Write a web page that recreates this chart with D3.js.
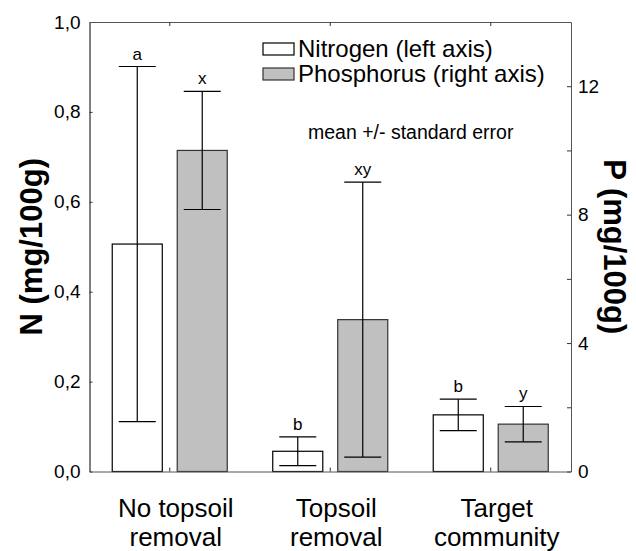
<!DOCTYPE html>
<html>
<head>
<meta charset="utf-8">
<script src="https://cdn.jsdelivr.net/npm/d3@7"></script>
<style>
  body { margin: 0; background: #fff; }
  svg text { font-family: "Liberation Sans", Arial, sans-serif; fill: #000; }
</style>
</head>
<body>
<div id="chart-container"></div>
<script>
// groups along the x axis (two text lines each)
const groups = ["No topsoil removal", "Topsoil removal", "Target community"];
const groupLines = [["No topsoil", "removal"], ["Topsoil", "removal"], ["Target", "community"]];

// Nitrogen, left axis (mg/100g)
const nMean = [0.506, 0.045, 0.126];
const nSE = [0.395, 0.032, 0.035];
const nLetters = ["a", "b", "b"];

// Phosphorus, right axis (mg/100g)
const pMean = [10.0, 4.73, 1.475];
const pSE = [1.84, 4.28, 0.55];
const pLetters = ["x", "xy", "y"];

const nTicks = [0, 0.2, 0.4, 0.6, 0.8, 1.0];
const pTicks = [0, 2, 4, 6, 8, 10, 12, 14];
const pLabelTicks = [0, 4, 8, 12];

const series = ["N", "P"];
const legendLabels = ["Nitrogen (left axis)", "Phosphorus (right axis)"];
const note = "mean +/- standard error";

const W = 636, H = 551;
const plot = { left: 89.5, right: 571, top: 22, bottom: 471.5 };

const svg = d3
  .select("#chart-container")
  .append("svg")
  .attr("width", W)
  .attr("height", H);

// scales
const x = d3.scaleBand().domain(groups).range([plot.left, plot.right]).padding(0);
const xs = d3
  .scaleBand()
  .domain(series)
  .range([0, x.bandwidth()])
  .paddingInner(0.23)
  .paddingOuter(0.35);
const yN = d3.scaleLinear().domain([0, 1]).range([plot.bottom, plot.top]);
const yP = d3.scaleLinear().domain([0, 14]).range([plot.bottom, plot.top]);

const fill = { N: "#ffffff", P: "#c0c0c0" };
const stroke = { N: "#000", P: "#333" };

// build rows for the bars
const rows = [];
groups.forEach(function (g, i) {
  rows.push({ g: g, s: "N", mean: nMean[i], se: nSE[i], letter: nLetters[i], y: yN });
  rows.push({ g: g, s: "P", mean: pMean[i], se: pSE[i], letter: pLetters[i], y: yP });
});

// bars
svg
  .selectAll("rect.bar")
  .data(rows)
  .enter()
  .append("rect")
  .attr("class", "bar")
  .attr("x", (d) => x(d.g) + xs(d.s))
  .attr("width", xs.bandwidth())
  .attr("y", (d) => d.y(d.mean))
  .attr("height", (d) => d.y(0) - d.y(d.mean))
  .attr("fill", (d) => fill[d.s])
  .attr("stroke", (d) => stroke[d.s])
  .attr("stroke-width", 1.2);

// error bars
const capHalf = 18.5;
const err = svg.selectAll("g.err").data(rows).enter().append("g").attr("class", "err");
const cx = (d) => x(d.g) + xs(d.s) + xs.bandwidth() / 2;
err
  .append("line")
  .attr("x1", cx)
  .attr("x2", cx)
  .attr("y1", (d) => d.y(d.mean + d.se))
  .attr("y2", (d) => d.y(d.mean - d.se));
err
  .append("line")
  .attr("x1", (d) => cx(d) - capHalf)
  .attr("x2", (d) => cx(d) + capHalf)
  .attr("y1", (d) => d.y(d.mean + d.se))
  .attr("y2", (d) => d.y(d.mean + d.se));
err
  .append("line")
  .attr("x1", (d) => cx(d) - capHalf)
  .attr("x2", (d) => cx(d) + capHalf)
  .attr("y1", (d) => d.y(d.mean - d.se))
  .attr("y2", (d) => d.y(d.mean - d.se));
err.selectAll("line").attr("stroke", "#000").attr("stroke-width", 1.2);

// significance letters
err
  .append("text")
  .attr("x", cx)
  .attr("y", (d) => d.y(d.mean + d.se) - 7)
  .attr("text-anchor", "middle")
  .attr("font-size", 17)
  .text((d) => d.letter);

// axes
const fmt = (d) => d3.format(".1f")(d).replace(".", ",");

const leftAxis = svg
  .append("g")
  .attr("transform", `translate(${plot.left},0)`)
  .call(d3.axisLeft(yN).tickValues(nTicks).tickFormat(fmt).tickSizeInner(-3).tickSizeOuter(0).tickPadding(9));
leftAxis.select(".domain").attr("stroke", "#000");

const rightAxis = svg
  .append("g")
  .attr("transform", `translate(${plot.right},0)`)
  .call(
    d3
      .axisRight(yP)
      .tickValues(pTicks)
      .tickFormat((d) => (pLabelTicks.includes(d) ? d : ""))
      .tickSizeInner(-4)
      .tickSizeOuter(0)
      .tickPadding(7)
  );
rightAxis.select(".domain").attr("stroke", "#555");

const bottomAxis = svg
  .append("g")
  .attr("transform", `translate(0,${plot.bottom})`)
  .call(d3.axisBottom(x).tickSizeInner(-4).tickSizeOuter(0).tickFormat(""));
bottomAxis.select(".domain").attr("stroke", "#555");

const topAxis = svg
  .append("g")
  .attr("transform", `translate(0,${plot.top})`)
  .call(d3.axisTop(x).tickSizeInner(-4).tickSizeOuter(0).tickFormat(""));
topAxis.select(".domain").attr("stroke", "#555");

svg.selectAll(".tick line").attr("stroke", "#333");
svg
  .selectAll(".tick text")
  .attr("font-size", 19)
  .attr("font-family", '"Liberation Sans", Arial, sans-serif')
  .attr("fill", "#000");

// category labels, two lines
const cat = svg
  .selectAll("text.cat")
  .data(groups)
  .enter()
  .append("text")
  .attr("class", "cat")
  .attr("text-anchor", "middle")
  .attr("font-size", 26);
cat
  .selectAll("tspan")
  .data((d, i) => groupLines[i].map((t) => ({ t: t, g: d })))
  .enter()
  .append("tspan")
  .attr("x", (d) => x(d.g) + x.bandwidth() / 2 + 6)
  .attr("y", (d, j) => 517 + j * 29)
  .text((d) => d.t);

// axis titles
svg
  .append("text")
  .attr("transform", `translate(42,${(plot.top + plot.bottom) / 2}) rotate(-90)`)
  .attr("text-anchor", "middle")
  .attr("font-size", 31)
  .attr("font-weight", "bold")
  .text("N (mg/100g)");

svg
  .append("text")
  .attr("transform", `translate(604,${(plot.top + plot.bottom) / 2}) rotate(90)`)
  .attr("text-anchor", "middle")
  .attr("font-size", 31)
  .attr("font-weight", "bold")
  .text("P (mg/100g)");

// legend
const legend = svg
  .selectAll("g.legend")
  .data(series)
  .enter()
  .append("g")
  .attr("class", "legend")
  .attr("transform", (d, i) => `translate(263,${43 + i * 25})`);
legend
  .append("rect")
  .attr("width", 31)
  .attr("height", 12)
  .attr("fill", (d) => fill[d])
  .attr("stroke", (d) => stroke[d])
  .attr("stroke-width", 1.2);
legend
  .append("text")
  .attr("x", 35)
  .attr("y", 13.5)
  .attr("font-size", 24)
  .text((d, i) => legendLabels[i]);

svg
  .append("text")
  .attr("x", 308)
  .attr("y", 139)
  .attr("font-size", 19.5)
  .text(note);
</script>
</body>
</html>
